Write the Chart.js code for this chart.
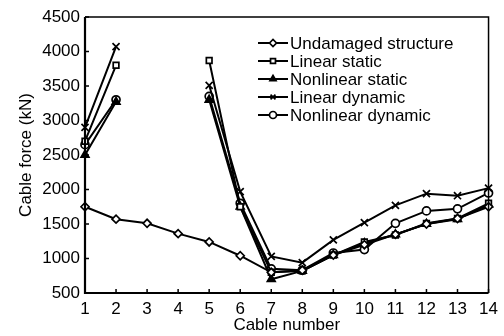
<!DOCTYPE html>
<html>
<head>
<meta charset="utf-8">
<script src="https://cdn.jsdelivr.net/npm/chart.js@4/dist/chart.umd.min.js"></script>
<style>
  html, body { margin: 0; padding: 0; background: #fff; }
  #wrap { width: 504px; height: 336px; }
</style>
</head>
<body>
<div id="wrap"><canvas id="chart" width="504" height="336"></canvas></div>
<script>
const cables = ['1', '2', '3', '4', '5', '6', '7', '8', '9', '10', '11', '12', '13', '14'];
const undamaged = [1750, 1570, 1510, 1360, 1240, 1040, 800, 830, 1050, 1200, 1350, 1500, 1580, 1750];
const linearStatic = [2700, 3800, null, null, 3870, 1750, 800, 820, 1050, 1240, 1340, 1510, 1580, 1800];
const nonlinearStatic = [2500, 3270, null, null, 3300, 1750, 700, 820, 1050, 1220, 1350, 1500, 1570, 1780];
const linearDynamic = [2900, 4070, null, null, 3510, 1970, 1030, 940, 1270, 1520, 1770, 1940, 1910, 2020];
const nonlinearDynamic = [2650, 3300, null, null, 3350, 1800, 850, 830, 1080, 1130, 1510, 1690, 1720, 1950];
const yTicks = [500, 1000, 1500, 2000, 2500, 3000, 3500, 4000, 4500];

const FONT = 'Liberation Sans, Arial, sans-serif';

function series(label, data, pointStyle, fill, radius) {
    return {
        label: label,
        data: data,
        borderColor: '#000',
        borderWidth: 2,
        pointStyle: pointStyle,
        pointRadius: radius,
        pointBorderWidth: 1.7,
        pointBackgroundColor: fill,
        pointBorderColor: '#000',
        spanGaps: false,
        tension: 0
    };
}

// box round the plot, inward ticks and the legend with line + marker
const frameLegend = {
    id: 'frameLegend',
    afterDraw(chart) {
        const ctx = chart.ctx;
        const a = chart.chartArea;
        const xs = chart.scales.x, ys = chart.scales.y;
        ctx.save();
        ctx.strokeStyle = '#000';
        ctx.lineWidth = 1.5;
        ctx.beginPath();
        ctx.moveTo(a.left, a.top);
        ctx.lineTo(a.right, a.top);
        ctx.lineTo(a.right, a.bottom);
        ctx.stroke();
        ctx.lineWidth = 2.2;
        ctx.beginPath();
        ctx.moveTo(a.left, a.top);
        ctx.lineTo(a.left, a.bottom);
        ctx.lineTo(a.right, a.bottom);
        ctx.stroke();
        ctx.lineWidth = 1.5;
        ctx.beginPath();
        for (let i = 0; i < cables.length; i++) {
            const px = xs.getPixelForValue(i);
            ctx.moveTo(px, a.bottom);
            ctx.lineTo(px, a.bottom - 4);
        }
        yTicks.forEach(v => {
            const py = ys.getPixelForValue(v);
            ctx.moveTo(a.left, py);
            ctx.lineTo(a.left + 4, py);
        });
        ctx.stroke();

        // legend
        const x0 = 258, x1 = 288, rowY = [43, 61, 79, 97, 115];
        ctx.font = '17px ' + FONT;
        ctx.textBaseline = 'middle';
        ctx.fillStyle = '#000';
        chart.data.datasets.forEach((ds, i) => {
            const y = rowY[i];
            ctx.lineWidth = 2;
            ctx.strokeStyle = '#000';
            ctx.beginPath();
            ctx.moveTo(x0, y);
            ctx.lineTo(x1, y);
            ctx.stroke();
            ctx.fillStyle = ds.pointBackgroundColor;
            ctx.lineWidth = 1.7;
            Chart.helpers.drawPoint(ctx, {pointStyle: ds.pointStyle, radius: 3.5, borderWidth: 1.7, rotation: 0}, (x0 + x1) / 2, y);
            ctx.fillStyle = '#000';
            ctx.fillText(ds.label, x1 + 2, y + 1);
        });
        ctx.restore();
    }
};

new Chart(document.getElementById('chart'), {
    type: 'line',
    data: {
        labels: cables,
        datasets: [
            series('Undamaged structure', undamaged, 'rectRot', '#fff', 4),
            series('Linear static', linearStatic, 'rect', '#fff', 4),
            series('Nonlinear static', nonlinearStatic, 'triangle', '#000', 4.5),
            series('Linear dynamic', linearDynamic, 'crossRot', '#000', 5),
            series('Nonlinear dynamic', nonlinearDynamic, 'circle', '#fff', 4)
        ]
    },
    options: {
        responsive: false,
        animation: false,
        layout: {padding: {top: 17, right: 15, left: 0, bottom: 0}},
        plugins: {legend: {display: false}, tooltip: {enabled: false}},
        scales: {
            x: {
                offset: false,
                grid: {display: false, drawTicks: false},
                border: {display: false},
                ticks: {color: '#000', font: {family: FONT, size: 17}, padding: 6, maxRotation: 0, autoSkip: false},
                title: {display: true, text: 'Cable number', color: '#000', font: {family: FONT, size: 17, lineHeight: 1}, padding: {top: 0, bottom: 2}},
                afterFit(scale) { scale.height = 43; }
            },
            y: {
                min: 500,
                max: 4500,
                grid: {display: false, drawTicks: false},
                border: {display: false},
                ticks: {stepSize: 500, color: '#000', font: {family: FONT, size: 17}, padding: 5, callback: v => String(v)},
                title: {display: true, text: 'Cable force (kN)', color: '#000', font: {family: FONT, size: 17, lineHeight: 1}, padding: {top: 18, bottom: 0}},
                afterFit(scale) { scale.width = 85; }
            }
        }
    },
    plugins: [frameLegend]
});
</script>
</body>
</html>
